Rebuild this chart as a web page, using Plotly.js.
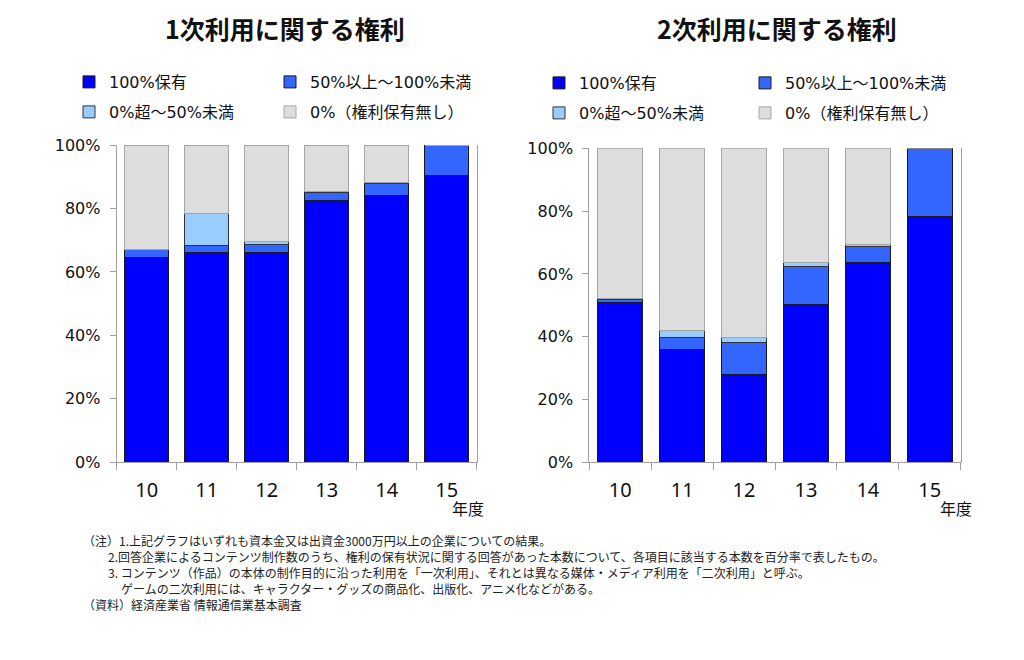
<!DOCTYPE html>
<html>
<head>
<meta charset="utf-8">
<script src="https://cdn.plot.ly/plotly-3.0.1.min.js"></script>
<style>
html,body{margin:0;padding:0;background:#fff;}
#chart{width:1024px;height:660px;}
</style>
</head>
<body>
<div id="chart"></div>
<script>
// Categories (fiscal year)
var years = ['10', '11', '12', '13', '14', '15'];

// Series names
var seriesNames = ['100%保有', '50%以上～100%未満', '0%超～50%未満', '0%（権利保有無し）'];

// Chart 1: 1次利用に関する権利 (percent)
var primaryFull    = [64.6, 66.1, 66.2, 82.5, 84.2, 90.5];
var primaryMajor   = [2.5, 2.2, 2.6, 2.5, 3.7, 9.5];
var primaryMinor   = [0.0, 10.2, 0.7, 0.2, 0.2, 0.0];
var primaryNone    = [32.9, 21.5, 30.5, 14.8, 11.9, 0.0];

// Chart 2: 2次利用に関する権利 (percent)
var secondaryFull  = [51.0, 35.9, 28.0, 50.2, 63.7, 78.4];
var secondaryMajor = [0.7, 4.0, 10.3, 12.2, 5.0, 21.6];
var secondaryMinor = [0.4, 2.1, 1.3, 1.2, 0.7, 0.0];
var secondaryNone  = [47.9, 58.0, 60.4, 36.4, 30.6, 0.0];

var titles = ['1次利用に関する権利', '2次利用に関する権利'];
var yearUnit = '年度';
var notes = [
  '（注）1.上記グラフはいずれも資本金又は出資金3000万円以上の企業についての結果。',
  '2.回答企業によるコンテンツ制作数のうち、権利の保有状況に関する回答があった本数について、各項目に該当する本数を百分率で表したもの。',
  '3. コンテンツ（作品）の本体の制作目的に沿った利用を「一次利用」、それとは異なる媒体・メディア利用を「二次利用」と呼ぶ。',
  'ゲームの二次利用には、キャラクター・グッズの商品化、出版化、アニメ化などがある。',
  '（資料）経済産業省 情報通信業基本調査'
];

var W = 1024, H = 660;
function px(x){ return x / W; }
function py(y){ return 1 - y / H; }

var fills = ['#0000FF', '#3366FF', '#99CCFF', '#DDDDDD'];
var edges = ['#1a1a1a', '#1a1a1a', '#333333', '#A6A6A6'];
var legendIds = [['legend', 'legend', 'legend2', 'legend2'], ['legend3', 'legend3', 'legend4', 'legend4']];

var sets = [
  [primaryFull, primaryMajor, primaryMinor, primaryNone],
  [secondaryFull, secondaryMajor, secondaryMinor, secondaryNone]
];

var traces = [];
for (var c = 0; c < 2; c++) {
  for (var s = 0; s < 4; s++) {
    traces.push({
      type: 'bar',
      name: seriesNames[s],
      x: years,
      y: sets[c][s],
      xaxis: c === 0 ? 'x' : 'x2',
      yaxis: c === 0 ? 'y' : 'y2',
      legend: legendIds[c][s],
      marker: {color: fills[s], line: {color: edges[s], width: 1}},
      hoverinfo: 'x+y+name'
    });
  }
}

var axisGray = '#A0A0A0';
function xAxis(domain) {
  return {
    domain: domain, type: 'category', tickson: 'boundaries',
    ticks: 'outside', ticklen: 7, tickcolor: axisGray, tickwidth: 1,
    showline: true, linecolor: axisGray, linewidth: 1,
    showgrid: false, zeroline: false, fixedrange: true,
    ticklabelstandoff: 10,
    tickfont: {family: 'Noto Sans, DejaVu Sans, sans-serif', size: 20, color: '#111'}
  };
}
function yAxis(domain, anchor) {
  return {
    domain: domain, anchor: anchor, range: [0, 100], dtick: 20, tick0: 0,
    ticksuffix: '%', ticks: 'outside', ticklen: 6, tickcolor: axisGray,
    showline: true, mirror: true, linecolor: axisGray, linewidth: 1,
    showgrid: false, zeroline: false, fixedrange: true,
    ticklabelstandoff: 6,
    tickfont: {family: 'DejaVu Sans, sans-serif', size: 16, color: '#111'}
  };
}

var legendFont = {family: 'DejaVu Sans, Noto Sans CJK JP, sans-serif', size: 16, color: '#111'};
function legendAt(x, y, ew) {
  return {
    orientation: 'h', xref: 'paper', yref: 'paper',
    x: px(x), y: py(y), xanchor: 'left', yanchor: 'middle',
    entrywidth: ew, entrywidthmode: 'pixels',
    bgcolor: 'rgba(0,0,0,0)', borderwidth: 0, font: legendFont,
    traceorder: 'normal'
  };
}

var annotations = [];
var titleX = [285, 777];
for (var t = 0; t < 2; t++) {
  annotations.push({
    xref: 'paper', yref: 'paper', x: px(titleX[t]), y: py(28),
    xanchor: 'center', yanchor: 'middle', showarrow: false,
    text: '<b>' + titles[t] + '</b>',
    font: {family: 'Noto Sans CJK JP, sans-serif', size: 25, color: '#111'}
  });
}
var unitX = [468, 956];
for (var u = 0; u < 2; u++) {
  annotations.push({
    xref: 'paper', yref: 'paper', x: px(unitX[u]), y: py(508),
    xanchor: 'center', yanchor: 'middle', showarrow: false,
    text: yearUnit,
    font: {family: 'Noto Sans CJK JP, sans-serif', size: 16, color: '#111'}
  });
}
var noteX = [81, 106, 106, 119, 81];
var noteY = [540, 556, 572, 588, 604];
for (var n = 0; n < notes.length; n++) {
  annotations.push({
    xref: 'paper', yref: 'paper', x: px(noteX[n]), y: py(noteY[n]),
    xanchor: 'left', yanchor: 'middle', showarrow: false,
    text: notes[n],
    font: {family: 'Noto Sans CJK JP, sans-serif', size: 12, color: '#222'}
  });
}

var layout = {
  width: W, height: H,
  margin: {l: 0, r: 0, t: 0, b: 0, pad: 0, autoexpand: false},
  paper_bgcolor: '#ffffff', plot_bgcolor: '#ffffff',
  barmode: 'stack', bargap: 0.27,
  showlegend: true,
  xaxis: xAxis([px(116.7), px(476.7)]),
  yaxis: yAxis([py(462.3), py(145)], 'x'),
  xaxis2: xAxis([px(589.3), px(960.7)]),
  yaxis2: yAxis([py(462.3), py(148.3)], 'x2'),
  legend: legendAt(69, 82, 156),
  legend2: legendAt(69, 112, 156),
  legend3: legendAt(539, 83, 161),
  legend4: legendAt(539, 113, 161),
  annotations: annotations
};
layout.xaxis.anchor = 'y';
layout.xaxis2.anchor = 'y2';

Plotly.newPlot('chart', traces, layout, {displayModeBar: false, staticPlot: true});
</script>
</body>
</html>
